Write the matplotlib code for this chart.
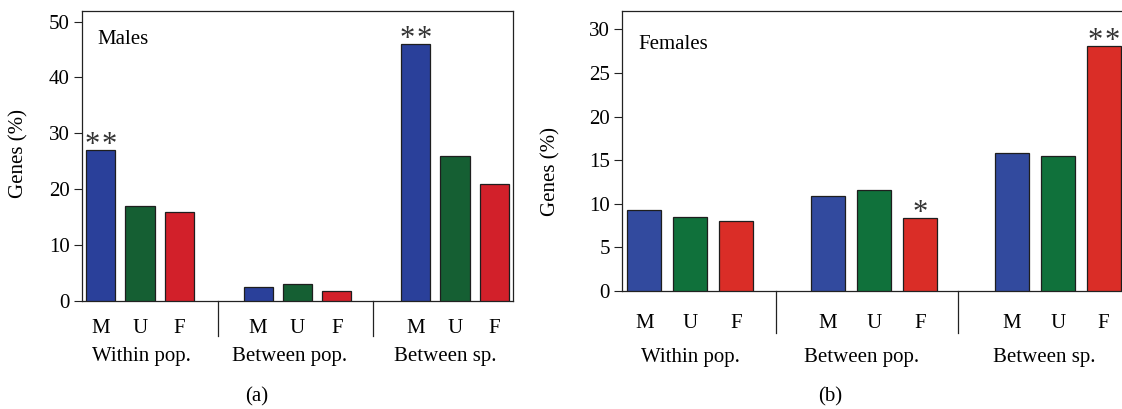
import matplotlib
matplotlib.use("Agg")
import matplotlib.pyplot as plt
import matplotlib.transforms as mtransforms

plt.rcParams['font.family'] = ['Liberation Serif', 'DejaVu Serif']

# bar slots: 3 groups of M, U, F with an empty slot between groups
positions = [0, 1, 2, 4, 5, 6, 8, 9, 10]
bar_labels = ["M", "U", "F"] * 3
groups = ["Within pop.", "Between pop.", "Between sp."]

males = [27, 17, 16, 2.5, 3.0, 1.8, 46, 26, 21]
females = [9.3, 8.5, 8.0, 10.9, 11.6, 8.4, 15.8, 15.5, 28.1]

# significance marks: (bar index, mark)
males_stars = [(0, "**"), (6, "**")]
females_stars = [(5, "*"), (8, "**")]

colors_a = ["#2a409a", "#155f33", "#d2202a"] * 3
colors_b = ["#324a9e", "#10713b", "#da2d27"] * 3

FS = 15
W, H = 1122, 409
fig = plt.figure(figsize=(W / 100, H / 100), dpi=100)


def px_box(x0, x1, ytop, ybot):
	return [x0 / W, 1 - ybot / H, (x1 - x0) / W, (ybot - ytop) / H]


def panel(rect, values, colors, ylim, yticks, xlim, dividers, group_x,
		  stars, title, title_xy, tick_pad, div_len, group_y):
	ax = fig.add_axes(rect)
	ax.bar(positions, values, width=0.74, color=colors,
		   edgecolor="#1e1e1e", linewidth=0.9, zorder=3)
	ax.set_xlim(*xlim)
	ax.set_ylim(*ylim)
	ax.set_yticks(yticks)
	ax.set_xticks(positions, bar_labels)
	ax.tick_params(axis="x", length=0, pad=tick_pad, labelsize=FS)
	ax.tick_params(axis="y", length=5.5, width=0.8, pad=3, labelsize=FS,
				   color="#222222")
	for s in ax.spines.values():
		s.set_linewidth(0.9)
		s.set_color("#222222")

	trans = mtransforms.blended_transform_factory(ax.transData, ax.transAxes)
	for d in dividers:
		ax.plot([d, d], [0, -div_len], transform=trans, clip_on=False,
				color="#222222", lw=0.9)
	for gx, g in zip(group_x, groups):
		ax.text(gx, group_y, g, transform=trans, ha="center", va="center",
				fontsize=FS)

	ax.text(title_xy[0], title_xy[1], title, transform=ax.transAxes,
			ha="left", va="center", fontsize=FS)

	for i, mark in stars:
		n = len(mark)
		for k in range(n):
			dx = (k - (n - 1) / 2) * 12.5
			ax.annotate("*", (positions[i], values[i]), xytext=(dx, -2),
						textcoords="offset points", ha="center", va="baseline",
						fontsize=22, color="#333333")
	return ax


ax_a = panel(px_box(81.7, 513.3, 11, 301), males, colors_a, (0, 51.9),
			 [0, 10, 20, 30, 40, 50], (-0.48, 10.48), [2.97, 6.92],
			 [1.03, 4.79, 8.75], males_stars, "Males", (0.036, 0.90),
			 12.7, 0.12, -0.192)

ax_b = panel(px_box(621.7, 1126.6, 11, 291), females, colors_b, (0, 32.1),
			 [0, 5, 10, 15, 20, 25, 30], (-0.49, 10.5), [2.87, 6.82],
			 [1.0, 4.74, 8.71], females_stars, "Females", (0.033, 0.881),
			 16.3, 0.149, -0.237)

fig.text(19.3 / W, 1 - 153 / H, "Genes (%)", rotation=90, ha="center",
		 va="center", fontsize=FS)
fig.text(550.7 / W, 1 - 172 / H, "Genes (%)", rotation=90, ha="center",
		 va="center", fontsize=FS)
fig.text(256.7 / W, 1 - 396.7 / H, "(a)", ha="center", va="center", fontsize=FS)
fig.text(830 / W, 1 - 396.7 / H, "(b)", ha="center", va="center", fontsize=FS)

fig.savefig("out.png", dpi=100)
